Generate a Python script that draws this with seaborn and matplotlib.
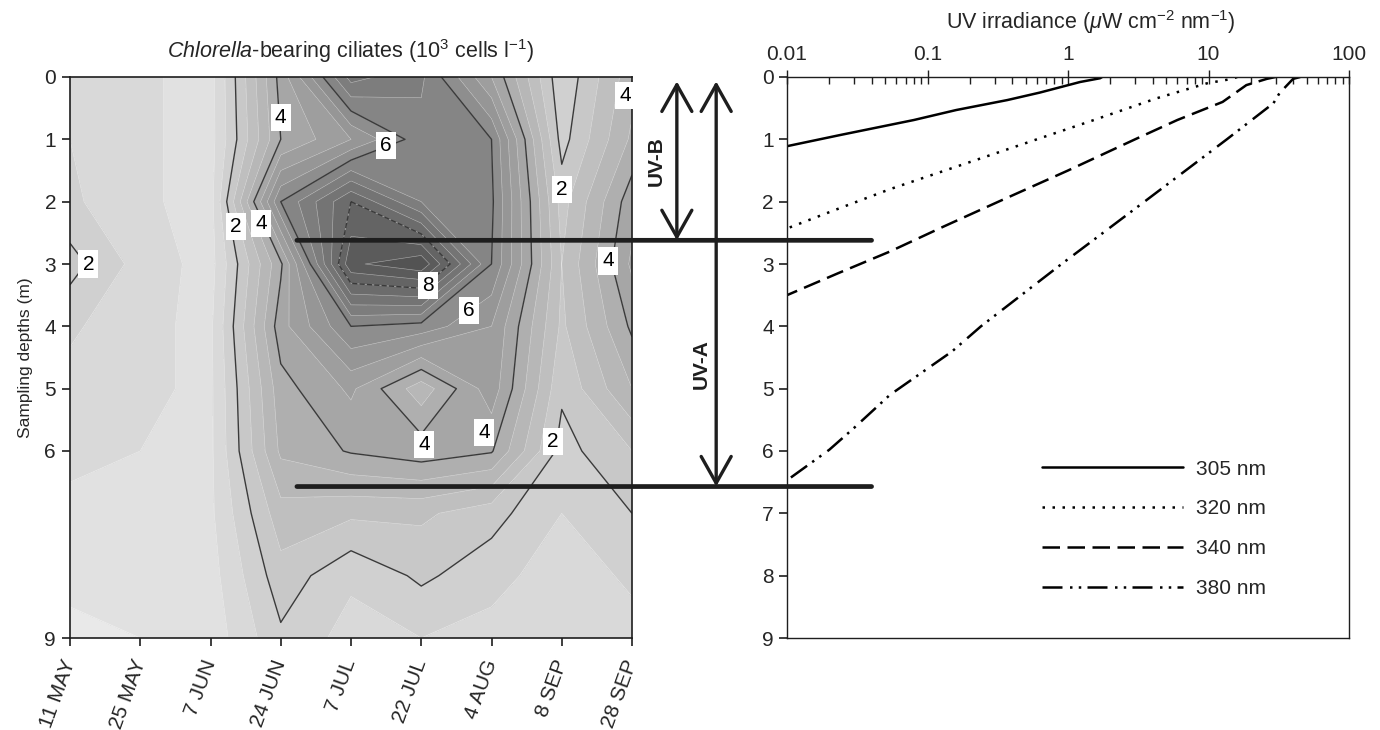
import numpy as np
import pandas as pd
import matplotlib
matplotlib.use("Agg")
import matplotlib.pyplot as plt
import seaborn as sns
from matplotlib.colors import LinearSegmentedColormap
from matplotlib.patches import ConnectionPatch
from matplotlib import transforms
from matplotlib.ticker import FixedLocator, NullFormatter

# ---------------------------------------------------------------
# data
# ---------------------------------------------------------------
dates = ["11 MAY", "25 MAY", "7 JUN", "24 JUN", "7 JUL", "22 JUL", "4 AUG", "8 SEP", "28 SEP"]
depths = [0, 1, 2, 3, 4, 5, 6, 7, 8, 9]
depth_ticks = [0, 1, 2, 3, 4, 5, 6, 9]

# Chlorella-bearing ciliates (10^3 cells/l), rows = depth, cols = dates
ciliates = [
    [1.5, 1.1, 0.8, 4.2, 7.2, 6.6, 4.5, 1.6, 3.3],   # 0 m
    [1.5, 1.1, 0.8, 4.0, 5.0, 6.3, 6.0, 1.8, 3.6],   # 1 m
    [1.6, 1.1, 0.8, 6.0, 8.0, 6.5, 6.1, 2.3, 4.3],   # 2 m
    [2.2, 1.3, 0.8, 3.9, 8.9, 9.4, 6.0, 2.5, 4.6],   # 3 m
    [1.6, 1.1, 0.9, 4.3, 6.0, 5.8, 5.0, 2.4, 4.1],   # 4 m
    [1.3, 1.1, 0.9, 3.8, 4.6, 3.2, 4.8, 2.1, 3.5],   # 5 m
    [1.1, 1.0, 0.9, 3.6, 4.05, 4.3, 4.05, 1.8, 2.5], # 6 m
    [0.9, 0.9, 0.9, 2.8, 2.6, 2.6, 2.2, 1.5, 2.0],   # 7 m
    [0.6, 0.7, 0.8, 2.3, 1.6, 2.1, 1.7, 1.2, 1.6],   # 8 m
    [0.4, 0.5, 0.7, 1.9, 1.3, 1.5, 1.3, 1.0, 1.3],   # 9 m
]

# contour labels (value, date index, depth)
contour_labels = [
    (2, 0.26, 3.0), (4, 3.0, 0.65), (6, 4.5, 1.1), (2, 2.36, 2.4), (4, 2.72, 2.35),
    (8, 5.1, 3.35), (6, 5.68, 3.75), (4, 5.04, 5.9), (4, 5.9, 5.7), (2, 6.87, 5.85),
    (2, 7.0, 1.8), (4, 7.66, 2.95), (4, 7.9, 0.3),
]

# UV irradiance profiles (uW cm-2 nm-1) vs depth (m)
d305 = [0.0, 0.02, 0.08, 0.25, 0.37, 0.53, 0.69, 0.93, 1.11]
uv305 = [1.75, 1.69, 1.22, 0.63, 0.37, 0.16, 0.080, 0.024, 0.010]

d320 = [0.0, 0.03, 0.10, 0.34, 0.69, 1.0, 1.4, 1.8, 2.1, 2.43]
uv320 = [16.0, 14.7, 9.8, 4.3, 1.53, 0.60, 0.18, 0.054, 0.024, 0.010]

d340 = [0.0, 0.03, 0.13, 0.40, 0.69, 1.0, 1.5, 2.0, 2.4, 2.8, 3.15, 3.5]
uv340 = [30.0, 26.0, 18.6, 12.6, 6.0, 3.0, 1.0, 0.32, 0.13, 0.054, 0.023, 0.010]

d380 = [0.0, 0.03, 0.26, 0.42, 1.0, 2.0, 3.0, 4.0, 4.4, 5.1, 5.63, 5.98, 6.47]
uv380 = [45.0, 40.0, 32.0, 29.0, 13.5, 3.5, 0.9, 0.24, 0.15, 0.054, 0.030, 0.020, 0.010]

uvb_depth = 2.62
uva_depth = 6.57

# ---------------------------------------------------------------
# style
# ---------------------------------------------------------------
sns.set_theme(style="ticks")
plt.rcParams["font.family"] = ["Liberation Sans", "DejaVu Sans"]
plt.rcParams["mathtext.fontset"] = "custom"
plt.rcParams["mathtext.rm"] = "Liberation Sans"
plt.rcParams["mathtext.it"] = "Liberation Sans:italic"
FS = 15
INK = "#1e1e1e"

fig = plt.figure(figsize=(13.8, 7.3), dpi=100)
ax1 = fig.add_axes([70 / 1380, 92 / 730, 562 / 1380, 561 / 730])
ax2 = fig.add_axes([787 / 1380, 92 / 730, 562 / 1380, 561 / 730])

# ---------------------------------------------------------------
# left: contour of ciliates
# ---------------------------------------------------------------
Z = np.array(ciliates)
X, Y = np.meshgrid(np.arange(len(dates)), depths)
cmap = LinearSegmentedColormap.from_list("g", [(0.93, 0.93, 0.93), (0.31, 0.31, 0.31)])
fill_levels = np.arange(0, 10.01, 0.5)
ax1.contourf(X, Y, Z, levels=fill_levels, cmap=cmap, vmin=0, vmax=9.5)
ax1.contour(X, Y, Z, levels=fill_levels, colors="white", linewidths=0.4, alpha=0.55)
ax1.contour(X, Y, Z, levels=[2, 4, 6], colors="#3a3a3a", linewidths=1.0)
ax1.contour(X, Y, Z, levels=[8], colors="#3a3a3a", linewidths=1.0, linestyles="--")

for val, xi, yi in contour_labels:
    ax1.text(xi, yi, str(val), ha="center", va="center", fontsize=FS, color="black",
             bbox=dict(boxstyle="square,pad=0.2", fc="white", ec="none"), zorder=5)

ax1.set_xlim(0, len(dates) - 1)
ax1.set_ylim(9, 0)
ax1.set_xticks(range(len(dates)))
ax1.set_xticklabels(dates, rotation=70, ha="right", va="center", rotation_mode="anchor",
                    fontsize=FS)
ax1.set_yticks(depth_ticks)
ax1.set_yticklabels([str(d) for d in depth_ticks], fontsize=FS)
ax1.tick_params(axis="both", direction="out", length=6, width=1.2, color=INK, pad=4)
ax1.tick_params(axis="x", pad=10)
ax1.set_ylabel("Sampling depths (m)", fontsize=12.5, labelpad=8)
ax1.set_title(r"$\mathit{Chlorella}$-bearing ciliates (10$^3$ cells l$^{-1}$)",
              fontsize=15.5, pad=14)
for s in ax1.spines.values():
    s.set_color(INK)
    s.set_linewidth(1.2)

# ---------------------------------------------------------------
# right: UV profiles
# ---------------------------------------------------------------
profiles = pd.concat([
    pd.DataFrame({"irr": uv305, "depth": d305, "wl": "305 nm"}),
    pd.DataFrame({"irr": uv320, "depth": d320, "wl": "320 nm"}),
    pd.DataFrame({"irr": uv340, "depth": d340, "wl": "340 nm"}),
    pd.DataFrame({"irr": uv380, "depth": d380, "wl": "380 nm"}),
])
dash_map = {"305 nm": "", "320 nm": (1, 3), "340 nm": (7, 3), "380 nm": (8, 3, 1, 2.5, 1, 2.5)}
sns.lineplot(data=profiles, x="irr", y="depth", style="wl", dashes=dash_map, color="black",
             sort=False, estimator=None, orient="y", linewidth=1.8, ax=ax2, legend=True)

ax2.set_xscale("log")
ax2.set_xlim(0.01, 100)
ax2.set_ylim(9, 0)
ax2.xaxis.set_ticks_position("top")
ax2.xaxis.set_label_position("top")
ax2.set_xticks([0.01, 0.1, 1, 10, 100])
ax2.set_xticklabels(["0.01", "0.1", "1", "10", "100"], fontsize=FS)
ax2.xaxis.set_minor_locator(FixedLocator(
    [m * 10.0 ** e for e in range(-2, 2) for m in range(2, 10)]))
ax2.xaxis.set_minor_formatter(NullFormatter())
ax2.tick_params(axis="x", which="major", direction="inout", length=10, width=1.0, color=INK, pad=4)
ax2.tick_params(axis="x", which="minor", direction="in", length=5, width=1.0, color=INK)
ax2.set_yticks(range(10))
ax2.set_yticklabels([str(d) for d in range(10)], fontsize=FS)
ax2.tick_params(axis="y", direction="out", length=6, width=1.2, color=INK)
ax2.set_xlabel(r"UV irradiance ($\mu$W cm$^{-2}$ nm$^{-1}$)", fontsize=15.5)
ax2.xaxis.set_label_coords(0.541, 1.085)
ax2.set_ylabel("")
for s in ax2.spines.values():
    s.set_color(INK)
    s.set_linewidth(1.0)

handles, labels = ax2.get_legend_handles_labels()
keep = [(h, l) for h, l in zip(handles, labels) if l.endswith("nm")]
ax2.legend([h for h, _ in keep], [l for _, l in keep], loc="upper left",
           bbox_to_anchor=(0.453, 0.318), frameon=False, fontsize=FS, handlelength=6.8,
           handletextpad=0.6, labelspacing=1.0, borderpad=0, borderaxespad=0)

# ---------------------------------------------------------------
# UV-B / UV-A penetration markers
# ---------------------------------------------------------------
for depth in (uvb_depth, uva_depth):
    con = ConnectionPatch(xyA=(3.23, depth), coordsA=ax1.transData,
                          xyB=(0.04, depth), coordsB=ax2.transData,
                          color=INK, linewidth=3.4, capstyle="round", zorder=10)
    fig.add_artist(con)

blend = transforms.blended_transform_factory(ax2.transAxes, ax2.transData)
arrow = dict(arrowstyle="<->,head_length=1.6,head_width=0.9", color=INK, lw=2.4,
             shrinkA=0, shrinkB=0)
ax2.annotate("", xy=(-0.196, 0.07), xytext=(-0.196, uvb_depth), xycoords=blend,
             textcoords=blend, arrowprops=arrow, annotation_clip=False)
ax2.annotate("", xy=(-0.126, 0.07), xytext=(-0.126, uva_depth), xycoords=blend,
             textcoords=blend, arrowprops=arrow, annotation_clip=False)
ax2.text(-0.232, 1.35, "UV-B", transform=blend, rotation=90, ha="center", va="center",
         fontsize=FS, fontweight="bold", color=INK)
ax2.text(-0.152, 4.6, "UV-A", transform=blend, rotation=90, ha="center", va="center",
         fontsize=FS, fontweight="bold", color=INK)

fig.savefig("out.png", dpi=100)
